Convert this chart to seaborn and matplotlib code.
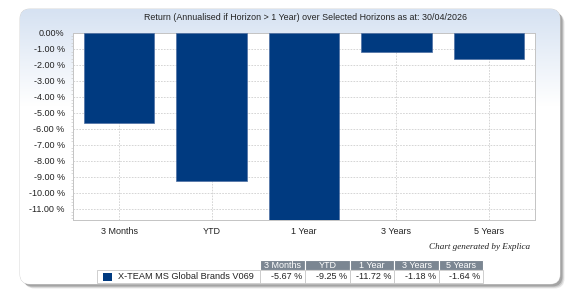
import numpy as np
import pandas as pd
import matplotlib
matplotlib.use("Agg")
import matplotlib.pyplot as plt
import seaborn as sns
from matplotlib.patches import FancyBboxPatch, Rectangle
from matplotlib.ticker import MultipleLocator, FixedLocator, FixedFormatter

# ---- data ----
categories = ["3 Months", "YTD", "1 Year", "3 Years", "5 Years"]
returns = [-5.67, -9.25, -11.72, -1.18, -1.64]
series_name = "X-TEAM MS Global Brands V069"
ytick_values = [0, -1, -2, -3, -4, -5, -6, -7, -8, -9, -10, -11]
ytick_labels = ["0.00%", "-1.00 %", "-2.00 %", "-3.00 %", "-4.00 %", "-5.00 %",
                "-6.00 %", "-7.00 %", "-8.00 %", "-9.00 %", "-10.00 %", "-11.00 %"]
title = "Return (Annualised if Horizon > 1 Year) over Selected Horizons as at: 30/04/2026"
credit = "Chart generated by Explica"

BAR = "#003a80"
HEAD = "#7b8692"
W, H = 572, 289

sns.set_theme(style="white")
plt.rcParams["font.family"] = ["Liberation Sans", "DejaVu Sans"]

fig = plt.figure(figsize=(W / 100, H / 100), dpi=100)
fig.patch.set_facecolor("white")

# background / panel axes in pixel coordinates
bg = fig.add_axes([0, 0, 1, 1], zorder=-5)
bg.set_xlim(0, W)
bg.set_ylim(H, 0)
bg.axis("off")

# shadow
for i, a in enumerate([0.12, 0.18, 0.28]):
    off = 3.5 - i
    sh = FancyBboxPatch((21 + off, 10 + off), 540, 275, boxstyle="round,pad=0,rounding_size=10",
                        facecolor="#444444", edgecolor="none", alpha=a, zorder=1)
    bg.add_patch(sh)
panel = FancyBboxPatch((20, 9), 540, 275, boxstyle="round,pad=0,rounding_size=10",
                       facecolor="white", edgecolor="#d0d0d0", linewidth=0.6, zorder=2)
bg.add_patch(panel)
# gradient
grad = np.linspace(0, 1, 256)
grad = np.clip(grad / 0.35, 0, 1)
top = np.array(matplotlib.colors.to_rgb("#d6e2f2"))
img = top[None, :] * (1 - grad[:, None]) + np.ones(3)[None, :] * grad[:, None]
img = img[:, None, :]
im = bg.imshow(img, extent=(20, 560, 284, 9), aspect="auto", zorder=3, interpolation="bilinear")
im.set_clip_path(panel)

# main chart axes
x0, x1, y0, y1 = 73, 535, 33, 220
ax = fig.add_axes([x0 / W, 1 - y1 / H, (x1 - x0) / W, (y1 - y0) / H])
ax.set_facecolor("white")
df = pd.DataFrame({"Horizon": categories, "Return": returns})
sns.barplot(data=df, x="Horizon", y="Return", color=BAR, width=0.76, saturation=1,
            edgecolor="#4d6fa3", linewidth=0.5, ax=ax, zorder=3)
ax.set_xlim(-0.5, len(categories) - 0.5)
ax.set_ylim(min(returns), 0)
ax.yaxis.set_major_locator(FixedLocator(ytick_values))
ax.yaxis.set_major_formatter(FixedFormatter(ytick_labels))
ax.yaxis.set_minor_locator(MultipleLocator(0.2))
ax.set_xlabel("")
ax.set_ylabel("")
ax.grid(True, which="major", axis="both", color="#cfcfcf", linestyle=(0, (2, 1.5)), linewidth=0.6, zorder=0)
ax.set_axisbelow(True)
ax.tick_params(axis="both", which="major", labelsize=6.5, colors="#bbbbbb", labelcolor="#222222",
               length=3, width=0.6, direction="out", pad=3)
ax.tick_params(axis="x", pad=2)
ax.tick_params(axis="y", which="minor", length=1.5, width=0.5, colors="#cccccc", left=True)
for s in ax.spines.values():
    s.set_color("#c4c4c4")
    s.set_linewidth(0.7)

fig.text(((x0 + x1) / 2 + 2) / W, 1 - 17 / H, title, ha="center", va="center", fontsize=6.4, color="#222222")
fig.text(530 / W, 1 - 247 / H, credit, ha="right", va="center", fontsize=6.6, style="italic",
         family=["Liberation Serif", "DejaVu Serif"], color="#222222")

# table
col_edges = [260, 305, 350, 394, 439, 483]
hy0, hy1, ry1 = 260, 270, 283
for i, c in enumerate(categories):
    xa, xb = col_edges[i], col_edges[i + 1]
    bg.add_patch(Rectangle((xa, hy0), xb - xa, hy1 - hy0, facecolor=HEAD, edgecolor="white",
                           linewidth=0.8, zorder=5))
    bg.text((xa + xb) / 2, (hy0 + hy1) / 2 + 0.3, c, ha="center", va="center", fontsize=6.5,
            color="white", zorder=6)
    bg.add_patch(Rectangle((xa, hy1), xb - xa, ry1 - hy1, facecolor="white", edgecolor="#c8c8c8",
                           linewidth=0.6, zorder=5))
    bg.text(xb - 3, (hy1 + ry1) / 2 + 0.3, f"{returns[i]:.2f} %", ha="right", va="center",
            fontsize=6.5, color="#222222", zorder=6)
bg.add_patch(Rectangle((97, hy1), col_edges[0] - 97, ry1 - hy1, facecolor="white", edgecolor="#c8c8c8",
                       linewidth=0.6, zorder=5))
bg.add_patch(Rectangle((103, hy1 + 2.5), 9, 8, facecolor=BAR, edgecolor="none", zorder=6))
bg.text(118, (hy1 + ry1) / 2 + 0.3, series_name, ha="left", va="center", fontsize=6.6,
        color="#222222", zorder=6)

fig.savefig("out.png", dpi=100)
